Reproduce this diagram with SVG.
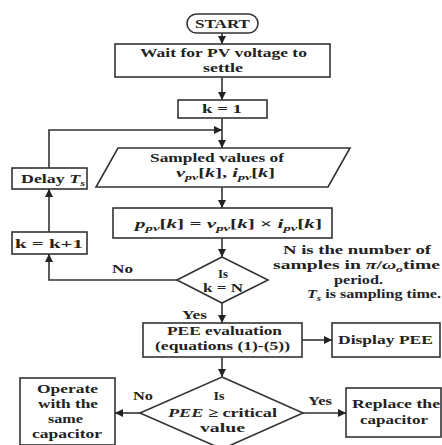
<svg xmlns="http://www.w3.org/2000/svg" width="442" height="445" viewBox="0 0 442 445">
<defs>
<marker id="ah" viewBox="0 0 10 10" refX="10" refY="5" markerWidth="8" markerHeight="8" markerUnits="userSpaceOnUse" orient="auto">
<path d="M0,0 L10,5 L0,10 z" fill="#222"/>
</marker>
<style>
.box{fill:#fff;stroke:#333;stroke-width:1.6}
.ln{fill:none;stroke:#333;stroke-width:1.6;marker-end:url(#ah)}
text{font-family:"Liberation Serif","Times New Roman",serif;font-weight:bold;font-size:13px;fill:#222;text-anchor:middle}
.m{font-style:italic}
.s{font-size:9px}
.t{font-size:12px}
</style>
</defs>
<rect width="442" height="445" fill="#fff"/>
<g id="connectors">
<line class="ln" x1="222" y1="33" x2="222" y2="44"/>
<line class="ln" x1="222" y1="77" x2="222" y2="100"/>
<line class="ln" x1="222" y1="118" x2="222" y2="148"/>
<line class="ln" x1="222" y1="187" x2="222" y2="208"/>
<line class="ln" x1="222" y1="238" x2="222" y2="257"/>
<polyline class="ln" points="177,280 49,280 49,254"/>
<line class="ln" x1="49" y1="232" x2="49" y2="189"/>
<polyline class="ln" points="49,168 49,130 222,130"/>
<line class="ln" x1="222" y1="303" x2="222" y2="323"/>
<line class="ln" x1="302" y1="340" x2="332" y2="340"/>
<line class="ln" x1="222" y1="357" x2="222" y2="377"/>
<line class="ln" x1="140" y1="413" x2="115" y2="413"/>
<line class="ln" x1="303" y1="413" x2="346" y2="413"/>
</g>
<g id="start">
<rect class="box" x="187" y="14" width="71" height="19" rx="9.5"/>
<text x="222.5" y="28" textLength="55" lengthAdjust="spacingAndGlyphs">START</text>
</g>
<g id="wait">
<rect class="box" x="115" y="44" width="215" height="33"/>
<text x="223.5" y="57" textLength="167" lengthAdjust="spacingAndGlyphs">Wait for PV voltage to</text>
<text x="223" y="72" textLength="40" lengthAdjust="spacingAndGlyphs">settle</text>
</g>
<g id="k1">
<rect class="box" x="178" y="100" width="89" height="18"/>
<text x="222" y="113" textLength="40" lengthAdjust="spacingAndGlyphs">k = 1</text>
</g>
<g id="sample">
<polygon class="box" points="118,148 350,148 328,187 96,187"/>
<text x="217" y="162" textLength="134" lengthAdjust="spacingAndGlyphs">Sampled values of</text>
<text x="225.5" y="177" textLength="99" lengthAdjust="spacingAndGlyphs"><tspan class="m">v</tspan><tspan class="m s" dy="3">pv</tspan><tspan dy="-3">[</tspan><tspan class="m">k</tspan>], <tspan class="m">i</tspan><tspan class="m s" dy="3">pv</tspan><tspan dy="-3">[</tspan><tspan class="m">k</tspan>]</text>
</g>
<g id="power">
<rect class="box" x="113" y="208" width="219" height="30"/>
<text x="228.5" y="228" textLength="187" lengthAdjust="spacingAndGlyphs"><tspan class="m">p</tspan><tspan class="m s" dy="3">pv</tspan><tspan dy="-3">[</tspan><tspan class="m">k</tspan>] = <tspan class="m">v</tspan><tspan class="m s" dy="3">pv</tspan><tspan dy="-3">[</tspan><tspan class="m">k</tspan>] × <tspan class="m">i</tspan><tspan class="m s" dy="3">pv</tspan><tspan dy="-3">[</tspan><tspan class="m">k</tspan>]</text>
</g>
<g id="decision1">
<polygon class="box" points="222,257 268,280 222,303 177,280"/>
<text x="223" y="278" textLength="10" lengthAdjust="spacingAndGlyphs">Is</text>
<text x="223" y="292" textLength="40" lengthAdjust="spacingAndGlyphs">k = N</text>
</g>
<g id="kinc">
<rect class="box" x="12" y="232" width="75" height="22"/>
<text x="49" y="248" textLength="68" lengthAdjust="spacingAndGlyphs">k = k+1</text>
</g>
<g id="delay">
<rect class="box" x="12" y="168" width="75" height="21"/>
<text x="53" y="183" textLength="64" lengthAdjust="spacingAndGlyphs">Delay <tspan class="m">T</tspan><tspan class="m s" dy="3">s</tspan></text>
</g>
<g id="labels">
<text x="122.5" y="273" textLength="21" lengthAdjust="spacingAndGlyphs">No</text>
<text x="194.5" y="319" textLength="25" lengthAdjust="spacingAndGlyphs">Yes</text>
<text x="143" y="400" textLength="20" lengthAdjust="spacingAndGlyphs">No</text>
<text x="320" y="405" textLength="24" lengthAdjust="spacingAndGlyphs">Yes</text>
</g>
<g id="note">
<text x="357" y="254" textLength="148" lengthAdjust="spacingAndGlyphs">N is the number of</text>
<text x="356.5" y="269" textLength="167" lengthAdjust="spacingAndGlyphs">samples in <tspan class="m">π</tspan>/<tspan class="m">ω</tspan><tspan class="m s" dy="3">o</tspan><tspan dy="-3">time</tspan></text>
<text x="358.5" y="284" textLength="49" lengthAdjust="spacingAndGlyphs">period.</text>
<text x="374" y="298" textLength="134" lengthAdjust="spacingAndGlyphs"><tspan class="m">T</tspan><tspan class="m s" dy="3">s</tspan><tspan dy="-3"> is sampling time.</tspan></text>
</g>
<g id="pee">
<rect class="box" x="143" y="323" width="159" height="34"/>
<text class="t" x="224.5" y="335" textLength="115" lengthAdjust="spacingAndGlyphs">PEE evaluation</text>
<text class="t" x="222.5" y="350" textLength="135" lengthAdjust="spacingAndGlyphs">(equations (1)-(5))</text>
</g>
<g id="display">
<rect class="box" x="332" y="323" width="108" height="34"/>
<text x="385.5" y="344" textLength="95" lengthAdjust="spacingAndGlyphs">Display PEE</text>
</g>
<g id="decision2">
<polygon class="box" points="222,377 303,413 222,449 140,413"/>
<text x="219" y="400" textLength="11" lengthAdjust="spacingAndGlyphs">Is</text>
<text x="222.5" y="417" textLength="109" lengthAdjust="spacingAndGlyphs"><tspan class="m">PEE</tspan> ≥ critical</text>
<text x="222.5" y="432" textLength="45" lengthAdjust="spacingAndGlyphs">value</text>
</g>
<g id="operate">
<rect class="box" x="20" y="378" width="95" height="67"/>
<text x="67.5" y="393" textLength="61" lengthAdjust="spacingAndGlyphs">Operate</text>
<text x="68" y="408" textLength="60" lengthAdjust="spacingAndGlyphs">with the</text>
<text x="65.5" y="423" textLength="35" lengthAdjust="spacingAndGlyphs">same</text>
<text x="67" y="438" textLength="70" lengthAdjust="spacingAndGlyphs">capacitor</text>
</g>
<g id="replace">
<rect class="box" x="346" y="388" width="95" height="49"/>
<text x="396" y="408" textLength="88" lengthAdjust="spacingAndGlyphs">Replace the</text>
<text x="394" y="424" textLength="68" lengthAdjust="spacingAndGlyphs">capacitor</text>
</g>
</svg>
